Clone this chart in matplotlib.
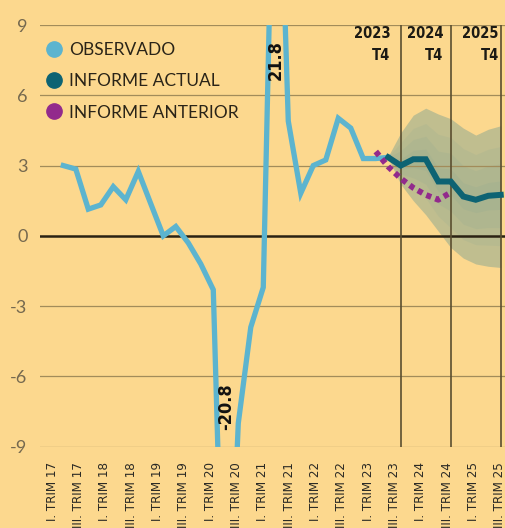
import matplotlib
matplotlib.use('Agg')
import matplotlib.pyplot as plt
import numpy as np
from matplotlib import font_manager
from matplotlib.lines import Line2D

# observed series, quarterly from I.2017 to III.2023
observado = [3.0, 2.85, 1.14, 1.32, 2.1, 1.54, 2.75, 1.37, 0.0, 0.4,
             -0.3, -1.2, -2.3, -20.8, -8.0, -3.9, -2.2, 21.8, 4.9, 1.82,
             3.0, 3.24, 5.02, 4.6, 3.3, 3.3, 3.35]

# current report forecast (from III.2023 to IV.2025) and its fan
actual = [3.35, 3.0, 3.27, 3.27, 2.32, 2.32, 1.68, 1.54, 1.71, 1.75]
fan_sup = [3.4, 4.4, 5.15, 5.45, 5.2, 5.0, 4.6, 4.3, 4.55, 4.7]
fan_inf = [3.3, 2.2, 1.5, 0.9, 0.2, -0.5, -0.95, -1.2, -1.3, -1.35]

# previous report forecast (from II.2023 to IV.2024)
anterior = [3.6, 2.95, 2.45, 2.05, 1.75, 1.54, 1.85]

tick_labels = ['I. TRIM 17', 'III. TRIM 17', 'I. TRIM 18', 'III. TRIM 18',
               'I. TRIM 19', 'III. TRIM 19', 'I. TRIM 20', 'III. TRIM 20',
               'I. TRIM 21', 'III. TRIM 21', 'I. TRIM 22', 'III. TRIM 22',
               'I. TRIM 23', 'III. TRIM 23', 'I. TRIM 24', 'III. TRIM 24',
               'I. TRIM 25', 'III. TRIM 25']
year_marks = ['2023\nT4', '2024\nT4', '2025\nT4']
yticks = [9, 6, 3, 0, -3, -6, -9]

BG = '#fcd88e'
C_OBS = '#5cb4cf'
C_ACT = '#0d6373'
C_ANT = '#922a8c'
C_FAN = '#6f9a92'


def pick(*names):
    have = {f.name for f in font_manager.fontManager.ttflist}
    for n in names:
        if n in have:
            return n
    return 'DejaVu Sans'


narrow = 'DejaVu Sans'
light = pick('Lato', 'Open Sans', 'DejaVu Sans')

x_obs = np.arange(len(observado))
x_act = np.arange(len(actual)) + len(observado) - 1
x_ant = np.arange(len(anterior)) + len(observado) - 2
x_years = [x_act[1], x_act[5], x_act[9]]

fig = plt.figure(figsize=(5.05, 5.28), dpi=100, facecolor=BG)
ax = fig.add_axes([40 / 505, 81.3 / 528, 465 / 505, 421.7 / 528])
ax.set_facecolor(BG)

# fan chart, a little darker towards the central path
ctr = np.array(actual)
sup = np.array(fan_sup)
inf = np.array(fan_inf)
for f, a in [(1.0, 0.42), (0.7, 0.1), (0.45, 0.1), (0.2, 0.1)]:
    ax.fill_between(x_act, ctr + f * (sup - ctr), ctr - f * (ctr - inf),
                    color=C_FAN, alpha=a, lw=0, zorder=1)

for y in yticks:
    if y == 0:
        ax.axhline(0, color='#2a2213', lw=1.8, zorder=2)
    else:
        ax.axhline(y, color='#a28c5a', lw=0.9, zorder=2)
for xv in x_years:
    ax.axvline(xv, color='#5a4e30', lw=1.2, zorder=2)

ax.plot(x_obs, observado, color=C_OBS, lw=3.8, solid_joinstyle='miter', zorder=4)
ax.plot(x_act, actual, color=C_ACT, lw=4.3, solid_joinstyle='miter', zorder=5)
ax.plot(x_ant, anterior, color=C_ANT, lw=4.2, linestyle=(0, (0.9, 0.75)),
        dash_capstyle='butt', zorder=6)

ax.set_xlim(-1.864, 35.34)
ax.set_ylim(-9, 9)

ax.text(17, 7.5, '21.8', rotation=90, ha='center', va='center',
        fontsize=13, fontweight='bold', family=narrow, fontstretch='condensed',
        color='#111111', zorder=7)
ax.text(13, -7.3, '-20.8', rotation=90, ha='center', va='center',
        fontsize=13, fontweight='bold', family=narrow, fontstretch='condensed',
        color='#111111', zorder=7)

offsets = [-0.82, -0.58, -0.16]
for xv, lab, dx in zip(x_years, year_marks, offsets):
    ax.text(xv + dx, 8.95, lab, ha='right', va='top', multialignment='right',
            fontsize=10.5, fontweight='bold', family=narrow,
            fontstretch='condensed', color='#1c1a14', linespacing=1.6,
            zorder=7)

ax.set_yticks(yticks)
ax.set_yticklabels([str(v) for v in yticks], family=light, fontsize=13,
                   color='#75694f')
ax.set_xticks(-0.9 + 2.108 * np.arange(len(tick_labels)))
ax.set_xticklabels(tick_labels, rotation=90, family=narrow,
                   fontstretch='condensed', fontsize=9.5, color='#2b2a25')
ax.tick_params(axis='y', length=0, pad=9)
ax.tick_params(axis='x', length=0, pad=11)
for s in ax.spines.values():
    s.set_visible(False)

handles = [Line2D([], [], marker='o', ls='', color=c, markersize=11)
           for c in (C_OBS, C_ACT, C_ANT)]
ax.legend(handles, ['OBSERVADO', 'INFORME ACTUAL', 'INFORME ANTERIOR'],
          loc='upper left', bbox_to_anchor=(47 / 505, 1 - 42 / 528),
          bbox_transform=fig.transFigure, frameon=False,
          prop={'family': light, 'size': 12.5},
          labelcolor='#2a2418', handlelength=0.8, handletextpad=0.45,
          labelspacing=0.88, borderpad=0, borderaxespad=0)

fig.savefig('out.png', dpi=100, facecolor=BG)
